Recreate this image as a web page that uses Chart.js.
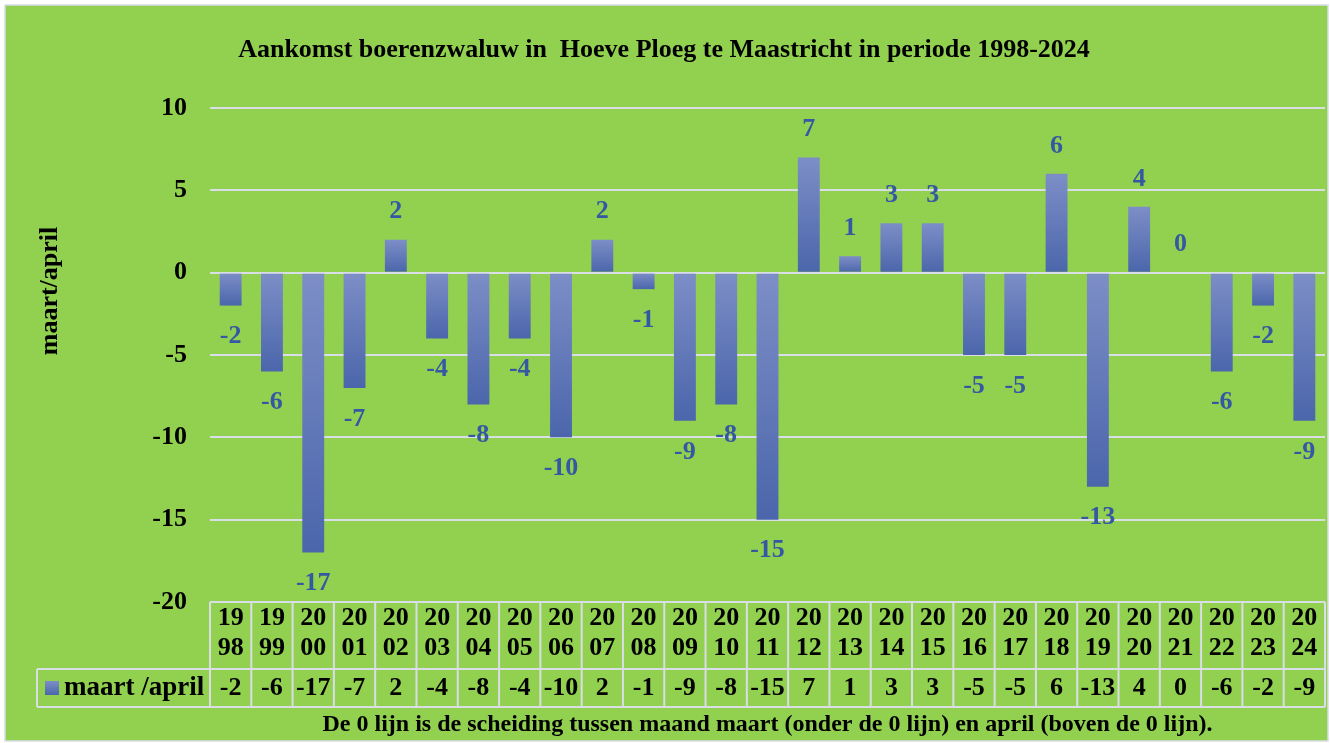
<!DOCTYPE html>
<html>
<head>
<meta charset="utf-8">
<script src="https://cdn.jsdelivr.net/npm/chart.js@4"></script>
<style>
  body { margin: 0; background: #fff; }
</style>
</head>
<body>
<canvas id="myChart" width="1330" height="743"></canvas>
<script>
// data
const years = ['1998', '1999', '2000', '2001', '2002', '2003', '2004', '2005', '2006', '2007',
  '2008', '2009', '2010', '2011', '2012', '2013', '2014', '2015', '2016', '2017',
  '2018', '2019', '2020', '2021', '2022', '2023', '2024'];
const arrival = [-2, -6, -17, -7, 2, -4, -8, -4, -10, 2, -1, -9, -8, -15, 7, 1, 3, 3, -5, -5, 6, -13, 4, 0, -6, -2, -9];
const seriesName = 'maart /april';
const yMin = -20, yMax = 10, yStep = 5;

const titleText = 'Aankomst boerenzwaluw in  Hoeve Ploeg te Maastricht in periode 1998-2024';
const axisTitle = 'maart/april';
const footText = 'De 0 lijn is de scheiding tussen maand maart (onder de 0 lijn) en april (boven de 0 lijn).';

const GREEN = '#92d050';
const LINE = '#d9dde6';
const SERIF = '"Liberation Serif", "Times New Roman", serif';

function barGradient(ctx, top, bottom) {
  const g = ctx.createLinearGradient(0, top, 0, bottom);
  g.addColorStop(0, '#7d8ec7');
  g.addColorStop(1, '#4b66ab');
  return g;
}

const background = {
  id: 'background',
  beforeDraw(chart) {
    const ctx = chart.ctx;
    ctx.save();
    ctx.fillStyle = '#ffffff';
    ctx.fillRect(0, 0, chart.width, chart.height);
    ctx.fillStyle = GREEN;
    ctx.fillRect(5, 5, chart.width - 7, chart.height - 7);
    ctx.strokeStyle = LINE;
    ctx.lineWidth = 1.5;
    ctx.strokeRect(5, 5, chart.width - 7, chart.height - 7);
    ctx.restore();
  }
};

const texts = {
  id: 'texts',
  afterDraw(chart) {
    const ctx = chart.ctx;
    const area = chart.chartArea;
    ctx.save();
    ctx.fillStyle = '#000';
    ctx.textAlign = 'center';
    ctx.textBaseline = 'middle';
    ctx.font = 'bold 26px ' + SERIF;
    ctx.fillText(titleText, 664, 50);

    ctx.font = 'bold 24px ' + SERIF;
    ctx.fillText(footText, (area.left + area.right) / 2, 725);

    ctx.save();
    ctx.translate(50, 291);
    ctx.rotate(-Math.PI / 2);
    ctx.font = 'bold 26px ' + SERIF;
    ctx.fillText(axisTitle, 0, 0);
    ctx.restore();
    ctx.restore();
  }
};

const dataLabels = {
  id: 'dataLabels',
  afterDatasetsDraw(chart) {
    const ctx = chart.ctx;
    const meta = chart.getDatasetMeta(0);
    ctx.save();
    ctx.fillStyle = '#3558a3';
    ctx.font = 'bold 26px ' + SERIF;
    ctx.textAlign = 'center';
    ctx.textBaseline = 'middle';
    meta.data.forEach((bar, i) => {
      const v = arrival[i];
      const y = v >= 0 ? bar.y - 28 : bar.y + 31;
      ctx.fillText(String(v), bar.x, y);
    });
    ctx.restore();
  }
};

const dataTable = {
  id: 'dataTable',
  afterDraw(chart) {
    const ctx = chart.ctx;
    const x = chart.scales.x;
    const area = chart.chartArea;
    const step = x.getPixelForValue(1) - x.getPixelForValue(0);
    const top = area.bottom, mid = 669, bot = 707, legendLeft = 37;
    ctx.save();
    ctx.strokeStyle = LINE;
    ctx.lineWidth = 2;
    ctx.beginPath();
    ctx.moveTo(area.left, top); ctx.lineTo(area.right, top);
    ctx.moveTo(legendLeft, mid); ctx.lineTo(area.right, mid);
    ctx.moveTo(legendLeft, bot); ctx.lineTo(area.right, bot);
    ctx.moveTo(legendLeft, mid); ctx.lineTo(legendLeft, bot);
    for (let i = 0; i <= years.length; i++) {
      const px = x.getPixelForValue(0) - step / 2 + i * step;
      ctx.moveTo(px, top); ctx.lineTo(px, bot);
    }
    ctx.stroke();

    ctx.fillStyle = '#000';
    ctx.textAlign = 'center';
    ctx.textBaseline = 'middle';
    ctx.font = 'bold 26px ' + SERIF;
    years.forEach((yr, i) => {
      const px = x.getPixelForValue(i);
      ctx.fillText(yr.slice(0, 2), px, 618);
      ctx.fillText(yr.slice(2), px, 648);
      ctx.fillText(String(arrival[i]), px, 688);
    });

    ctx.fillStyle = barGradient(ctx, 681, 695);
    ctx.fillRect(45, 681, 14, 14);
    ctx.fillStyle = '#000';
    ctx.textAlign = 'left';
    ctx.font = 'bold 27px ' + SERIF;
    ctx.fillText(seriesName, 64, 688);
    ctx.restore();
  }
};

new Chart(document.getElementById('myChart').getContext('2d'), {
  type: 'bar',
  data: {
    labels: years,
    datasets: [{
      label: seriesName,
      data: arrival,
      categoryPercentage: 1,
      barPercentage: 0.53,
      backgroundColor(c) {
        const chart = c.chart;
        if (c.type !== 'data' || !chart.chartArea) return '#6479bb';
        const y = chart.scales.y;
        const v = c.raw;
        const t = y.getPixelForValue(Math.max(v, 0));
        const b = y.getPixelForValue(Math.min(v, 0));
        if (b - t < 1) return '#6479bb';
        return barGradient(chart.ctx, t, b);
      }
    }]
  },
  options: {
    responsive: false,
    animation: false,
    layout: { padding: { top: 108, right: 5, bottom: 141, left: 0 } },
    plugins: { legend: { display: false }, tooltip: { enabled: false }, title: { display: false } },
    scales: {
      x: { display: false },
      y: {
        min: yMin,
        max: yMax,
        afterFit(scale) { scale.width = 210; },
        ticks: { stepSize: yStep, color: '#000', padding: 23, font: { family: SERIF, size: 26, weight: 'bold' } },
        grid: { color: LINE, lineWidth: 2, drawTicks: false },
        border: { display: false }
      }
    }
  },
  plugins: [background, dataLabels, dataTable, texts]
});
</script>
</body>
</html>
